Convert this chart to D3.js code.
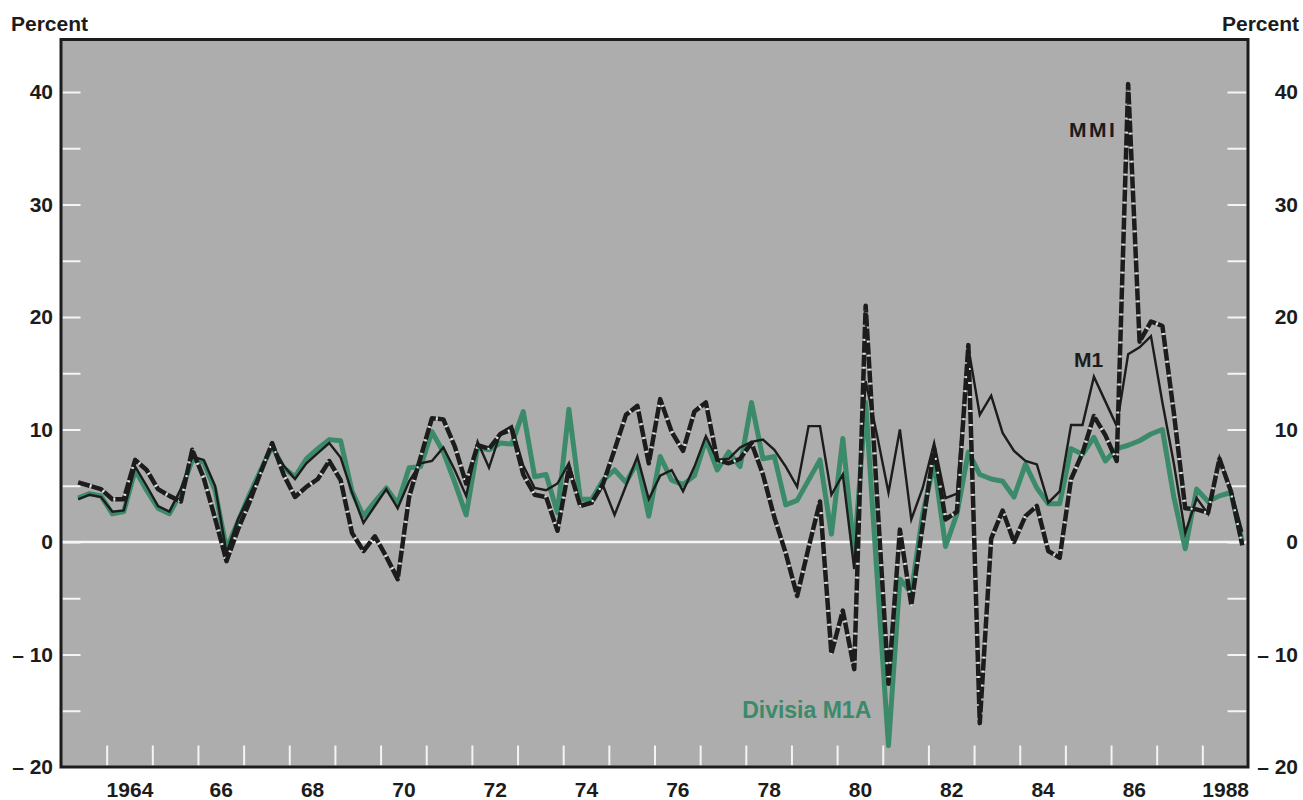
<!DOCTYPE html>
<html>
<head>
<meta charset="utf-8">
<script src="https://cdn.jsdelivr.net/npm/d3@7/dist/d3.min.js"></script>
<style>
    body { margin: 0; background: #fff; }
    text { font-family: "Liberation Sans", Arial, Helvetica, sans-serif; font-weight: bold; fill: #1c1c1c; }
</style>
</head>
<body>
<div id="chart"></div>
<script>
// 0. data: annualized quarterly growth, 1963Q2 .. 1988Q4 (one row per year)
var firstYear = 1963, firstQuarter = 2;

var divisiaM1A = [
         3.9,  4.3,  4.1,
    2.5,  2.7,  6.4,  4.6,
    3.0,  2.5,  4.4,  7.3,
    7.1,  4.6, -0.6,  1.8,
    4.2,  6.4,  8.5,  6.6,
    5.8,  7.4,  8.3,  9.1,
    9.0,  4.5,  2.3,  3.6,
    4.8,  3.4,  6.6,  6.7,
    9.8,  8.0,  5.3,  2.4,
    8.4,  8.2,  8.8,  8.7,
    11.6, 5.8,  6.0,  2.6,
    11.8, 3.8,  3.8,  5.5,
    6.4,  5.3,  7.1,  2.3,
    7.6,  5.5,  5.1,  5.9,
    9.1,  6.4,  8.0,  6.7,
    12.4, 7.4,  7.6,  3.3,
    3.7,  5.5,  7.3,  0.7,
    9.2, -1.0, 12.4, -3.0,
   -18.1,-3.3, -4.5,  2.5,
    7.0, -0.4,  2.5,  8.0,
    6.0,  5.6,  5.4,  4.0,
    6.9,  4.8,  3.4,  3.4,
    8.3,  7.8,  9.3,  7.2,
    8.3,  8.6,  9.0,  9.6,
    10.0, 4.0, -0.6,  4.7,
    3.6,  4.1,  4.4,  0.0
];

var m1 = [
         3.8,  4.2,  4.0,
    2.7,  2.8,  6.7,  5.0,
    3.2,  2.7,  4.7,  7.6,
    7.3,  5.0, -1.0,  2.0,
    4.1,  6.3,  8.5,  6.8,
    5.6,  7.0,  7.9,  8.8,
    7.5,  4.4,  1.7,  3.2,
    4.7,  3.0,  5.4,  7.0,
    7.2,  8.4,  6.4,  4.1,
    8.9,  6.6,  9.7, 10.3,
    6.8,  4.8,  4.6,  5.2,
    7.0,  3.2,  3.4,  5.0,
    2.4,  5.0,  7.6,  3.8,
    5.9,  6.4,  4.5,  6.7,
    9.4,  7.3,  7.4,  8.4,
    8.9,  9.1,  8.2,  6.7,
    4.9, 10.3, 10.3,  4.2,
    6.0, -2.4, 14.3,  9.5,
    4.4, 10.0,  2.0,  4.8,
    8.8,  3.9,  4.3, 17.3,
    11.3, 13.0, 9.7,  8.1,
    7.2,  6.9,  3.5,  4.5,
    10.4, 10.4, 14.7, 12.5,
    10.3, 16.7, 17.3, 18.3,
    12.4, 7.0,  0.8,  3.9,
    2.5,  7.5,  4.7,  0.9
];

var mmi = [
         5.3,  5.0,  4.7,
    3.8,  3.8,  7.3,  6.4,
    4.7,  4.1,  3.6,  8.2,
    5.7,  2.1, -1.7,  1.1,
    3.5,  6.2,  8.8,  6.0,
    4.0,  4.9,  5.6,  7.2,
    5.5,  0.8, -0.8,  0.5,
   -1.3, -3.3,  4.0,  7.5,
    11.0, 10.9, 8.5,  5.2,
    8.6,  8.3,  9.6, 10.0,
    6.0,  4.2,  4.0,  1.0,
    6.6,  3.2,  3.5,  5.2,
    8.2, 11.3, 12.1,  7.0,
    12.7, 9.8,  8.1, 11.6,
    12.4, 7.3,  7.0,  7.4,
    8.8,  6.0,  2.2, -1.0,
   -4.8, -0.5,  3.6, -9.9,
   -6.1,-11.3, 21.0,  4.0,
   -12.6, 1.1, -5.6,  1.5,
    8.3,  2.0,  2.7, 17.5,
   -16.1, 0.3,  2.8,  0.0,
    2.3,  3.2, -0.8, -1.4,
    5.6,  7.9, 11.2,  9.5,
    7.2, 40.7, 17.8, 19.6,
    19.2, 11.5, 3.0,  2.9,
    2.6,  7.4,  4.5, -0.3
];

var yLabelTicks = [-20, -10, 0, 10, 20, 30, 40];
var yMinorTicks = [-15, -10, -5, 0, 5, 10, 15, 20, 25, 30, 35, 40];
var yearTicks = d3.range(1964, 1989);
var labelYears = [1964, 1966, 1968, 1970, 1972, 1974, 1976, 1978, 1980, 1982, 1984, 1986, 1988];
var yearLabels = ["1964", "66", "68", "70", "72", "74", "76", "78", "80", "82", "84", "86", "1988"];

// quarter midpoints as decimal years
function quarterTime(i) {
    var q = firstQuarter - 1 + i;
    return firstYear + Math.floor(q / 4) + (q % 4) * 0.25 + 0.125;
}

// 0.1 size
var svgW = 1303, svgH = 800;
var plot = {left: 61, right: 1248, top: 39.5, bottom: 767};
var green = "#3b8a69", ink = "#1c1c1c";

// 1. scales
var x = d3.scaleLinear().domain([1963, 1989]).range([plot.left, plot.right]);
var y = d3.scaleLinear().domain([-20, 40]).range([plot.bottom, 92]);

var svg = d3.select("#chart").append("svg")
    .attr("width", svgW).attr("height", svgH);

// 2. background panel
svg.append("rect")
    .attr("x", plot.left).attr("y", plot.top)
    .attr("width", plot.right - plot.left).attr("height", plot.bottom - plot.top)
    .attr("fill", "#adadad");

// 3. white tick marks inside the panel
var leftMinor = svg.append("g")
    .attr("transform", "translate(" + (plot.left + 1.5) + ",0)")
    .call(d3.axisLeft(y).tickValues(yMinorTicks).tickSize(-18).tickFormat(""));
var rightMinor = svg.append("g")
    .attr("transform", "translate(" + (plot.right - 1.5) + ",0)")
    .call(d3.axisRight(y).tickValues(yMinorTicks).tickSize(-19).tickFormat(""));
var bottomMinor = svg.append("g")
    .attr("transform", "translate(0," + (plot.bottom - 1.5) + ")")
    .call(d3.axisBottom(x).tickValues(yearTicks).tickSize(-20).tickFormat(""));

[leftMinor, rightMinor, bottomMinor].forEach(function (g) {
    g.select(".domain").remove();
    g.selectAll("line").attr("stroke", "#f4f4f4").attr("stroke-width", 2);
});

// zero line
svg.append("line")
    .attr("x1", plot.left).attr("x2", plot.right)
    .attr("y1", y(0)).attr("y2", y(0))
    .attr("stroke", "#f6f6f6").attr("stroke-width", 2.5);

// 4. series
function toPoints(values) {
    return values.map(function (v, i) { return {t: quarterTime(i), v: v}; });
}
var line = d3.line()
    .x(function (d) { return x(d.t); })
    .y(function (d) { return y(d.v); });

svg.append("path")
    .datum(toPoints(divisiaM1A))
    .attr("d", line)
    .attr("fill", "none")
    .attr("stroke", green)
    .attr("stroke-width", 5)
    .attr("stroke-linejoin", "round");

svg.append("path")
    .datum(toPoints(m1))
    .attr("d", line)
    .attr("fill", "none")
    .attr("stroke", ink)
    .attr("stroke-width", 2.4)
    .attr("stroke-linejoin", "miter")
    .attr("stroke-miterlimit", 6);

// MMI: heavy dashes with thin light gaps
svg.append("path")
    .datum(toPoints(mmi))
    .attr("d", line)
    .attr("fill", "none")
    .attr("stroke", "#e6e6e6")
    .attr("stroke-width", 2)
    .attr("stroke-linejoin", "round");
svg.append("path")
    .datum(toPoints(mmi))
    .attr("d", line)
    .attr("fill", "none")
    .attr("stroke", ink)
    .attr("stroke-width", 4.5)
    .attr("stroke-dasharray", "12,2")
    .attr("stroke-linejoin", "round");

// 5. frame
svg.append("rect")
    .attr("x", plot.left).attr("y", plot.top)
    .attr("width", plot.right - plot.left).attr("height", plot.bottom - plot.top)
    .attr("fill", "none")
    .attr("stroke", ink)
    .attr("stroke-width", 3);

// 6. tick labels
function fmt(d) { return d < 0 ? "\u2013 " + Math.abs(d) : String(d); }

var leftAxis = svg.append("g")
    .attr("transform", "translate(" + plot.left + ",0)")
    .call(d3.axisLeft(y).tickValues(yLabelTicks).tickSize(0).tickPadding(8).tickFormat(fmt));
var rightAxis = svg.append("g")
    .attr("transform", "translate(" + plot.right + ",0)")
    .call(d3.axisRight(y).tickValues(yLabelTicks).tickSize(0).tickFormat(fmt));
rightAxis.selectAll("text").attr("x", 50).attr("text-anchor", "end");

var bottomAxis = svg.append("g")
    .attr("transform", "translate(0," + plot.bottom + ")")
    .call(d3.axisBottom(x)
        .tickValues(labelYears.map(function (d) { return d + 0.5; }))
        .tickSize(0).tickPadding(15)
        .tickFormat(function (d, i) { return yearLabels[i]; }));

[leftAxis, rightAxis, bottomAxis].forEach(function (g) {
    g.select(".domain").remove();
    g.selectAll("text")
        .attr("fill", ink)
        .style("font-size", "21px")
        .style("font-family", "'Liberation Sans', Arial, sans-serif")
        .style("font-weight", "bold");
});

// 7. titles and series names
svg.append("text").attr("x", 11).attr("y", 31)
    .style("font-size", "21px").text("Percent");
svg.append("text").attr("x", 1299).attr("y", 31)
    .attr("text-anchor", "end")
    .style("font-size", "21px").text("Percent");

svg.append("text")
    .attr("x", x(1985.08)).attr("y", y(36))
    .style("font-size", "21px").style("letter-spacing", "2.5px")
    .text("MMI");
svg.append("text")
    .attr("x", x(1985.19)).attr("y", y(15.56))
    .style("font-size", "21px")
    .text("M1");
svg.append("text")
    .attr("x", x(1977.92)).attr("y", y(-15.64))
    .style("font-size", "23px")
    .style("fill", green)
    .text("Divisia M1A");
</script>
</body>
</html>
